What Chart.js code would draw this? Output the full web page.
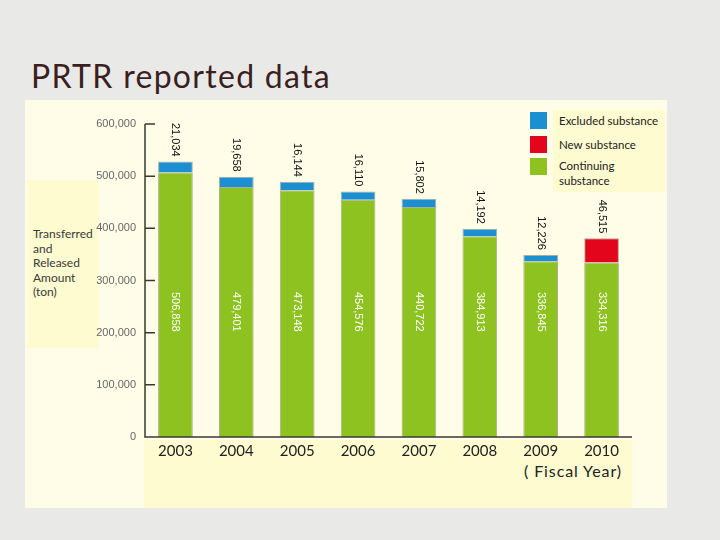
<!DOCTYPE html>
<html>
<head>
<meta charset="utf-8">
<script src="https://cdn.jsdelivr.net/npm/chart.js@4.4.1/dist/chart.umd.min.js"></script>
<style>
  html, body { margin: 0; padding: 0; }
  body {
    width: 720px; height: 540px; position: relative; overflow: hidden;
    background: #e9e9e7;
    font-family: Lato, "Open Sans", sans-serif;
  }
  .title {
    position: absolute; left: 31px; top: 56px;
    font-size: 32px; color: #3b1f1f; line-height: 40px; letter-spacing: 1.3px;
  }
  .panel { position: absolute; left: 25px; top: 100px; width: 642px; height: 408px; background: #fffde8; }
  .box { position: absolute; background: #fdfbcf; }
  .ytitle {
    position: absolute; left: 33px; top: 227px; font-size: 12px; line-height: 14.5px; color: #3a3a3a;
  }
  .leg { position: absolute; font-size: 11.5px; color: #222; line-height: 14.5px; }
  .sw { position: absolute; left: 530px; width: 17px; height: 17px; }
  .xtitle { position: absolute; right: 98px; top: 461px; font-size: 16px; color: #222; letter-spacing: 0.9px; }
  canvas { position: absolute; left: 0; top: 0; }
</style>
</head>
<body>
<div class="title">PRTR reported data</div>
<div class="panel"></div>
<div class="box" style="left:27px;top:180px;width:72px;height:168px"></div>
<div class="box" style="left:553px;top:110px;width:112px;height:82px"></div>
<div class="box" style="left:144px;top:440px;width:488px;height:68px"></div>
<div class="ytitle">Transferred<br>and<br>Released<br>Amount<br>(ton)</div>

<div class="sw" style="top:112px;background:#1b8fd2"></div>
<div class="sw" style="top:136px;background:#e2051c"></div>
<div class="sw" style="top:158px;background:#8dc220"></div>
<div class="leg" style="left:559px;top:114px">Excluded substance</div>
<div class="leg" style="left:559px;top:138px">New substance</div>
<div class="leg" style="left:559px;top:159px">Continuing<br>substance</div>
<div class="xtitle">( Fiscal Year)</div>

<canvas id="chart" width="720" height="540"></canvas>
<script>
const years = ['2003', '2004', '2005', '2006', '2007', '2008', '2009', '2010'];
const continuing = [506858, 479401, 473148, 454576, 440722, 384913, 336845, 334316];
const newSubstance = [0, 0, 0, 0, 0, 0, 0, 46515];
const excluded = [21034, 19658, 16144, 16110, 15802, 14192, 12226, 0];
const yTicks = [0, 100000, 200000, 300000, 400000, 500000, 600000];

const fmt = v => v.toLocaleString('en-US');

// inward ticks, axis lines and the rotated value labels
const decorPlugin = {
  id: 'decor',
  afterDatasetsDraw(chart) {
    const { ctx, chartArea, scales } = chart;
    const x = scales.x, y = scales.y;
    ctx.save();
    ctx.strokeStyle = '#3a3a30';
    ctx.lineWidth = 1.5;
    ctx.beginPath();
    ctx.moveTo(chartArea.left, y.getPixelForValue(600000));
    ctx.lineTo(chartArea.left, y.getPixelForValue(0));
    ctx.lineTo(chartArea.right, y.getPixelForValue(0));
    yTicks.forEach(t => {
      const py = y.getPixelForValue(t);
      ctx.moveTo(chartArea.left, py);
      ctx.lineTo(chartArea.left + 10, py);
    });
    ctx.stroke();

    ctx.font = '11px "Liberation Sans", Arial, sans-serif';
    ctx.textBaseline = 'middle';
    years.forEach((yr, i) => {
      const px = x.getPixelForValue(i);
      // value inside the green bar
      ctx.save();
      ctx.translate(px, y.getPixelForValue(240000));
      ctx.rotate(Math.PI / 2);
      ctx.textAlign = 'center';
      ctx.fillStyle = '#ffffff';
      ctx.fillText(fmt(continuing[i]), 0, 0);
      ctx.restore();
      // value above the bar
      const topVal = excluded[i] || newSubstance[i];
      const top = y.getPixelForValue(continuing[i] + newSubstance[i] + excluded[i]);
      ctx.save();
      ctx.translate(px, top - 5);
      ctx.rotate(Math.PI / 2);
      ctx.textAlign = 'right';
      ctx.fillStyle = '#111111';
      ctx.fillText(fmt(topVal), 0, 0);
      ctx.restore();
    });
    ctx.restore();
  }
};

const barBorder = 'rgba(100,110,80,0.55)';

new Chart(document.getElementById('chart').getContext('2d'), {
  type: 'bar',
  data: {
    labels: years,
    datasets: [
      { label: 'Continuing substance', data: continuing, backgroundColor: '#8dc220', borderColor: barBorder, borderWidth: 1 },
      { label: 'New substance', data: newSubstance, backgroundColor: '#e2051c', borderColor: barBorder, borderWidth: 1 },
      { label: 'Excluded substance', data: excluded, backgroundColor: '#1b8fd2', borderColor: barBorder, borderWidth: 1 }
    ]
  },
  options: {
    responsive: false,
    animation: false,
    layout: { padding: { left: 0, right: 88, top: 124, bottom: 0 } },
    datasets: { bar: { categoryPercentage: 1, barPercentage: 0.57 } },
    plugins: { legend: { display: false }, tooltip: { enabled: false } },
    scales: {
      x: {
        stacked: true,
        grid: { display: false },
        border: { display: false },
        ticks: { color: '#222', padding: -3, font: { family: 'Lato', size: 15 } },
        afterFit: s => { s.height = 103; }
      },
      y: {
        stacked: true,
        min: 0,
        max: 600000,
        grid: { display: false },
        border: { display: false },
        ticks: {
          stepSize: 100000,
          padding: 1,
          color: '#666',
          font: { family: '"Liberation Sans", Arial', size: 11 },
          callback: v => fmt(v)
        },
        afterFit: s => { s.width = 145; }
      }
    }
  },
  plugins: [decorPlugin]
});
</script>
</body>
</html>
